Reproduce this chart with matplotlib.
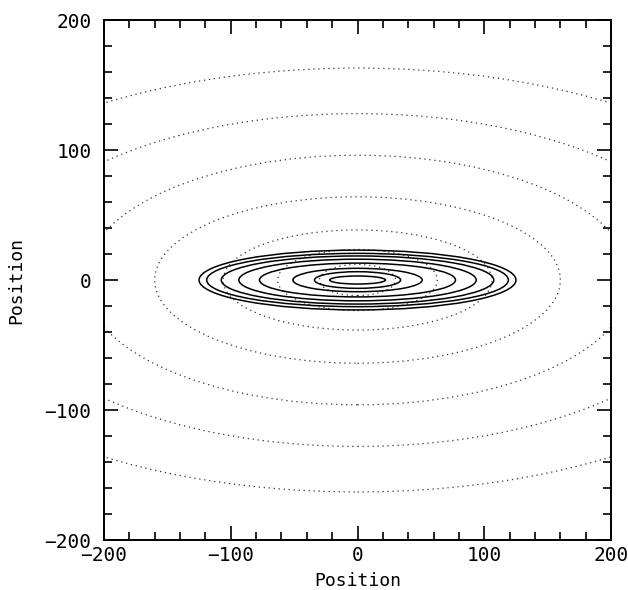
import numpy as np
import matplotlib
matplotlib.use('Agg')
import matplotlib.pyplot as plt
from matplotlib.patches import Ellipse
from matplotlib import ticker

# --- Contour data (semi-axes in position units) ---
# solid contours, inner region
solid_a = [125, 119, 107.5, 93.6, 77.3, 51, 34, 22]
solid_b = [23, 20.5, 18.5, 16, 13, 9, 6.4, 3.1]
# dotted contours, outer region
dotted_a = [363, 284, 216, 160, 106, 63, 30]
dotted_b = [163, 128, 96, 64, 38.5, 23.5, 12]

x_limits = (-200, 200)
y_limits = (-200, 200)
axis_label = 'Position'

plt.rcParams['font.family'] = ['DejaVu Sans Mono']

fig = plt.figure(figsize=(6.28, 5.90), dpi=100)
ax = fig.add_axes([0.1656, 0.0847, 0.8074, 0.8814])

for a, b in zip(dotted_a, dotted_b):
    ax.add_patch(Ellipse((0, 0), 2 * a, 2 * b, fill=False, edgecolor='#333333',
                         linewidth=0.9, linestyle=(0, (1, 3))))

for a, b in zip(solid_a, solid_b):
    ax.add_patch(Ellipse((0, 0), 2 * a, 2 * b, fill=False, edgecolor='black',
                         linewidth=1.1))

ax.set_xlim(*x_limits)
ax.set_ylim(*y_limits)

ax.xaxis.set_major_locator(ticker.MultipleLocator(100))
ax.xaxis.set_minor_locator(ticker.MultipleLocator(20))
ax.yaxis.set_major_locator(ticker.MultipleLocator(100))
ax.yaxis.set_minor_locator(ticker.MultipleLocator(20))
ax.tick_params(which='both', direction='in', top=True, right=True, width=1.2,
               labelsize=14)
ax.tick_params(axis='x', which='major', pad=4)
ax.tick_params(axis='y', which='major', pad=9)
ax.tick_params(which='major', length=10)
ax.tick_params(which='minor', length=6)

for spine in ax.spines.values():
    spine.set_linewidth(1.4)

ax.set_xlabel(axis_label, fontsize=13, labelpad=5)
ax.set_ylabel(axis_label, fontsize=13, labelpad=14)

fig.savefig('out.png', dpi=100)
plt.close(fig)
